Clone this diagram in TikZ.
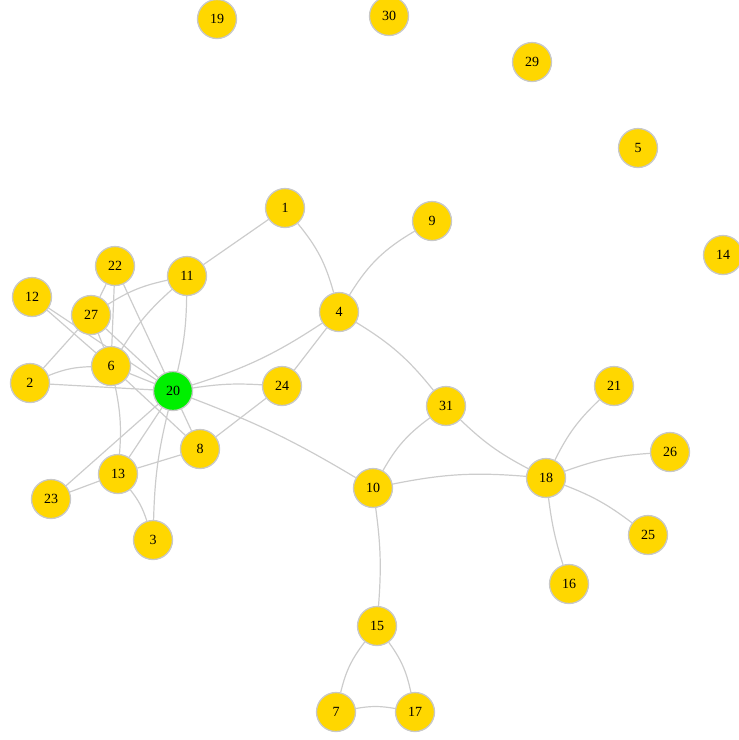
\documentclass[tikz,border=0pt]{standalone}
\usepackage{fontspec}
\setmainfont{Liberation Serif}
\usetikzlibrary{backgrounds}

\definecolor{vertgold}{RGB}{255,215,0}
\definecolor{vertgreen}{RGB}{0,240,0}
\definecolor{linkgray}{RGB}{204,204,204}
\definecolor{rimgray}{RGB}{200,200,200}

\begin{document}
\begin{tikzpicture}[
    x=1pt, y=-1pt,
    vert/.style={circle, draw=rimgray, line width=1.3pt, fill=vertgold, minimum size=39pt, inner sep=0pt, font=\fontsize{14}{16}\selectfont},
    hub/.style={vert, fill=vertgreen},
    link/.style={draw=linkgray, line width=1.2pt},
    bl/.style={link, bend left=#1},
    br/.style={link, bend right=#1}
]
    \useasboundingbox (0,0) rectangle (739,740);

    % Vertices
    \foreach \n/\x/\y in {19/217/19, 30/389/16, 29/532/62, 5/638/148, 14/723/255,
        1/285/208, 9/432/221, 11/187/276, 22/115/266, 12/32/297, 27/91/315,
        4/339/312, 6/111/366, 2/30/383, 24/282/386, 31/446/406, 21/614/386,
        8/200/449, 26/670/452, 13/118/474, 18/546/478, 10/373/488, 23/51/499,
        25/648/535, 3/153/540, 16/569/584, 15/377/626, 7/336/712, 17/415/712}
        \node[vert] (v\n) at (\x,\y) {\n};
    \node[hub] (v20) at (173,391) {20};

    % Links
    \begin{scope}[on background layer]
        \foreach \a/\b in {1/11, 4/24, 22/6, 22/27, 22/20, 12/6, 12/20, 27/6, 27/20,
            27/2, 2/20, 6/20, 6/8, 20/8, 20/13, 20/23, 24/8, 13/8, 13/23}
            \draw[link] (v\a) -- (v\b);
        \draw[bl=12] (v1) to (v4);
        \draw[br=14] (v9) to (v4);
        \draw[br=8] (v20) to (v4);
        \draw[bl=10] (v4) to (v31);
        \draw[br=12] (v31) to (v10);
        \draw[br=8] (v31) to (v18);
        \draw[bl=8] (v10) to (v18);
        \draw[bl=5] (v20) to (v10);
        \draw[bl=6] (v10) to (v15);
        \draw[br=12] (v15) to (v7);
        \draw[bl=12] (v15) to (v17);
        \draw[bl=10] (v7) to (v17);
        \draw[bl=10] (v18) to (v21);
        \draw[bl=8] (v18) to (v26);
        \draw[bl=8] (v18) to (v25);
        \draw[br=5] (v18) to (v16);
        \draw[br=10] (v11) to (v27);
        \draw[br=8] (v11) to (v6);
        \draw[bl=6] (v11) to (v20);
        \draw[bl=10] (v2) to (v6);
        \draw[bl=6] (v20) to (v24);
        \draw[bl=8] (v6) to (v13);
        \draw[br=6] (v20) to (v3);
        \draw[bl=10] (v13) to (v3);
    \end{scope}
\end{tikzpicture}
\end{document}
